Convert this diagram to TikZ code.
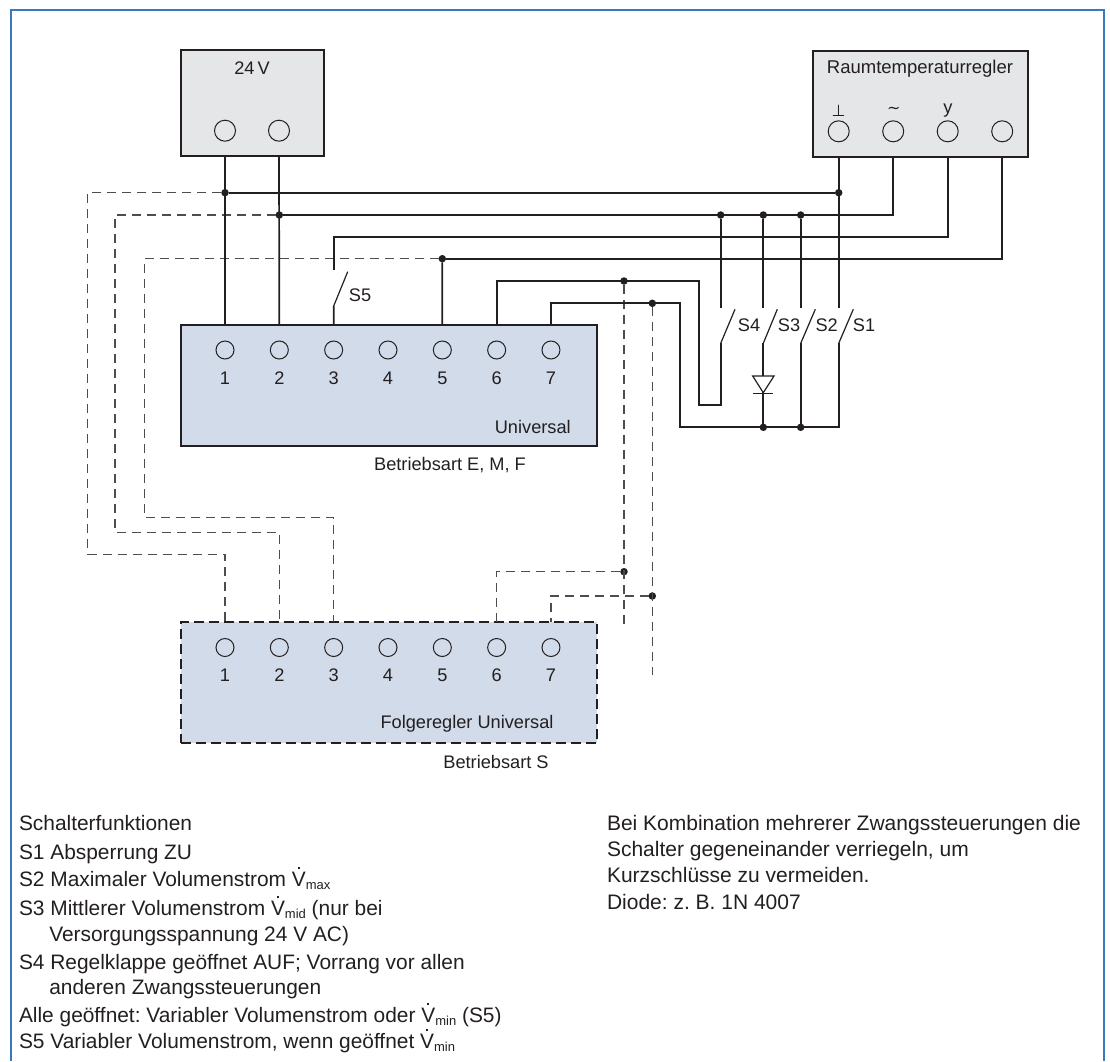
\documentclass[tikz,border=0pt]{standalone}
\usepackage{fontspec}
\setmainfont{Liberation Sans}
\newfontfamily\symfont{DejaVu Sans}
\usetikzlibrary{positioning}

\definecolor{ink}{HTML}{231F20}
\definecolor{framecol}{HTML}{3A77BD}
\definecolor{dashcol}{HTML}{4D4D4D}
\definecolor{greyfill}{HTML}{E5E6E8}
\definecolor{bluefill}{HTML}{D1DBE9}

\newcommand{\flow}[1]{\makebox[0pt][l]{\hspace{.28em}\raisebox{.8em}{\rule{.1em}{.1em}}}V\raisebox{-3.5pt}{\fontsize{13}{13}\selectfont #1}}
\frenchspacing

\begin{document}
\begin{tikzpicture}[
  x=1pt, y=-1pt,
  node distance=36.33pt,
  every node/.style={text=ink, inner sep=0pt, outer sep=0pt},
  lbl/.style={font=\fontsize{18.2}{20}\selectfont},
  symb/.style={font=\fontsize{16}{16}\selectfont\symfont},
  note/.style={font=\fontsize{20.9}{24}\selectfont, anchor=base west},
  notewide/.style={note, font=\fontsize{21}{24}\selectfont},
  box/.style={draw=ink, line width=2pt, anchor=north west},
  dashbox/.style={box, dash pattern=on 10pt off 5pt},
  terminal/.style={circle, draw=ink, line width=1pt, minimum size=18pt},
  bigterminal/.style={terminal, minimum size=21pt},
  junction/.style={circle, fill=ink, minimum size=7.5pt},
  wire/.style={draw=ink, line width=1.7pt},
  blade/.style={draw=ink, line width=1.2pt},
  dashwire/.style={draw=dashcol, line width=1.2pt, dash pattern=on 9pt off 6pt}
]
  \useasboundingbox (0,0) rectangle (1110,1061);
  \draw [framecol, line width=1.6pt] (11,1061) -- (11,10) -- (1104,10) -- (1104,1061);

  % supply
  \node (psu) [box, fill=greyfill, minimum width=143pt, minimum height=105.4pt] at (180.7,50.3) {};
  \node (psutext) [lbl] at (252,68) {24\,V};
  \node (p1) [bigterminal] at (225,130.7) {};
  \node (p2) [bigterminal, right=33pt of p1] {};

  % room controller
  \node (room) [box, fill=greyfill, minimum width=215.3pt, minimum height=106pt] at (812.7,50.7) {};
  \node (roomtext) [font=\fontsize{18.5}{22}\selectfont] at (920,69) {Raumtemperaturregler};
  \node (r1) [bigterminal] at (838.7,131.3) {};
  \node (r2) [bigterminal, right=33.5pt of r1] {};
  \node (r3) [bigterminal, right=33.5pt of r2] {};
  \node (r4) [bigterminal, right=33.5pt of r3] {};
  \node (rsym1) [symb] at (838.7,111) {⊥};
  \node (rsym2) [symb] at (893.7,110) {∼};
  \node (rsym3) [lbl] at (948,111) {y};

  % universal
  \node (uni) [box, fill=bluefill, minimum width=416pt, minimum height=121pt] at (180.7,325) {};
  \node (unitext) [lbl, anchor=east] at (570.7,426.7) {Universal};
  \node (unimode) [lbl] at (450,465) {Betriebsart E, M, F};
  \node (u1) [terminal] at (225,350) {};
  \node (u2) [terminal, right=of u1] {};
  \node (u3) [terminal, right=of u2] {};
  \node (u4) [terminal, right=of u3] {};
  \node (u5) [terminal, right=of u4] {};
  \node (u6) [terminal, right=of u5] {};
  \node (u7) [terminal, right=of u6] {};
  \node (un1) [lbl, below=12.5pt of u1] {1};
  \node (un2) [lbl, below=12.5pt of u2] {2};
  \node (un3) [lbl, below=12.5pt of u3] {3};
  \node (un4) [lbl, below=12.5pt of u4] {4};
  \node (un5) [lbl, below=12.5pt of u5] {5};
  \node (un6) [lbl, below=12.5pt of u6] {6};
  \node (un7) [lbl, below=12.5pt of u7] {7};

  % follower
  \node (fol) [dashbox, fill=bluefill, minimum width=416pt, minimum height=121pt] at (180.7,622.3) {};
  \node (foltext) [lbl] at (467,724) {Folgeregler Universal};
  \node (folmode) [lbl] at (496,762) {Betriebsart S};
  \node (f1) [terminal] at (225,647.5) {};
  \node (f2) [terminal, right=of f1] {};
  \node (f3) [terminal, right=of f2] {};
  \node (f4) [terminal, right=of f3] {};
  \node (f5) [terminal, right=of f4] {};
  \node (f6) [terminal, right=of f5] {};
  \node (f7) [terminal, right=of f6] {};
  \node (fn1) [lbl, below=12.5pt of f1] {1};
  \node (fn2) [lbl, below=12.5pt of f2] {2};
  \node (fn3) [lbl, below=12.5pt of f3] {3};
  \node (fn4) [lbl, below=12.5pt of f4] {4};
  \node (fn5) [lbl, below=12.5pt of f5] {5};
  \node (fn6) [lbl, below=12.5pt of f6] {6};
  \node (fn7) [lbl, below=12.5pt of f7] {7};

  % junctions
  \node (j1) [junction] at (225,192.7) {};
  \node (jr1) [junction] at (838.7,192.7) {};
  \node (j2) [junction] at (279.3,215) {};
  \node (js4) [junction] at (720.7,215) {};
  \node (js3) [junction] at (763.3,215) {};
  \node (js2) [junction] at (800.7,215) {};
  \node (j5) [junction] at (442.3,258.7) {};
  \node (j6) [junction] at (624,281) {};
  \node (j7) [junction] at (652.3,303.3) {};
  \node (j8) [junction] at (624,571.7) {};
  \node (j9) [junction] at (652.3,596) {};
  \node (jb3) [junction] at (763.3,427.3) {};
  \node (jb2) [junction] at (800.7,427.3) {};

  % switches
  \coordinate (s1a) at (838.7,307.7);
  \coordinate (s1b) at (838.7,343.3);
  \coordinate (s1c) at (853.3,309.3);
  \coordinate (s2a) at (800.7,307.7);
  \coordinate (s2b) at (800.7,343.3);
  \coordinate (s2c) at (815.3,309.3);
  \coordinate (s3a) at (763.3,307.7);
  \coordinate (s3b) at (763.3,343.3);
  \coordinate (s3c) at (777.3,309.3);
  \coordinate (s4a) at (720.7,307.7);
  \coordinate (s4b) at (720.7,343.3);
  \coordinate (s4c) at (735,309.3);
  \coordinate (s5a) at (333.7,270);
  \coordinate (s5b) at (333.7,306);
  \coordinate (s5c) at (347.7,271.7);
  \node (s1text) [lbl] at (864,325.7) {S1};
  \node (s2text) [lbl] at (826.7,325.7) {S2};
  \node (s3text) [lbl] at (789,325.7) {S3};
  \node (s4text) [lbl] at (749,325.7) {S4};
  \node (s5text) [lbl] at (360,295) {S5};

  % bends
  \coordinate (b3) at (333.7,236.7);
  \coordinate (b6) at (698.7,281);
  \coordinate (b6a) at (698.7,405);
  \coordinate (b6b) at (720.7,405);
  \coordinate (b7) at (680,303.3);
  \coordinate (b7a) at (680,427.3);
  \coordinate (b7b) at (838.7,427.3);
  \coordinate (d1) at (87.7,554.3);
  \coordinate (d2) at (115,532.3);
  \coordinate (d5) at (144.3,517.7);
  \coordinate (e6) at (624,626.7);
  \coordinate (e7) at (652.3,675);

  % dashed wiring
  \draw [dashwire] (j1) -| (d1) -| (f1 |- fol.north);
  \draw [dashwire] (j2) -| (d2) -| (f2 |- fol.north);
  \draw [dashwire] (j5) -| (d5) -| (f3 |- fol.north);
  \draw [dashwire] (j6) -- (e6);
  \draw [dashwire] (j7) -- (e7);
  \draw [dashwire] (j8) -| (f6 |- fol.north);
  \draw [dashwire] (j9) -| (f7 |- fol.north);

  % solid wiring
  \draw [wire] (p1 |- psu.south) -- (u1 |- uni.north);
  \draw [wire] (p2 |- psu.south) -- (u2 |- uni.north);
  \draw [wire] (j1) -- (jr1);
  \draw [wire] (r1 |- room.south) -- (s1a);
  \draw [wire] (j2) -| (r2 |- room.south);
  \draw [wire] (r3 |- room.south) |- (b3) -- (s5a);
  \draw [wire] (r4 |- room.south) |- (j5);
  \draw [wire] (j5) -- (u5 |- uni.north);
  \draw [wire] (s5b) -- (u3 |- uni.north);
  \draw [wire] (js4) -- (s4a);
  \draw [wire] (js3) -- (s3a);
  \draw [wire] (js2) -- (s2a);
  \draw [wire] (u6 |- uni.north) |- (b6) -- (b6a) -- (b6b) -- (s4b);
  \draw [wire] (u7 |- uni.north) |- (b7) -- (b7a) -- (b7b) -- (s1b);
  \draw [wire] (s3b) -- (jb3);
  \draw [wire] (s2b) -- (jb2);

  \draw [blade] (s1b) -- (s1c);
  \draw [blade] (s2b) -- (s2c);
  \draw [blade] (s3b) -- (s3c);
  \draw [blade] (s4b) -- (s4c);
  \draw [blade] (s5b) -- (s5c);

  % diode
  \draw [blade, fill=white] (752.7,376) -- (774,376) -- (763.3,392.7) -- cycle;
  \draw [blade] (753.3,393.7) -- (773.3,393.7);

  % notes
  \node (n1) [note] at (19,830) {Schalterfunktionen};
  \node (n2) [note] at (19,859) {S1 Absperrung ZU};
  \node (n3) [note] at (19,886) {S2 Maximaler Volumenstrom \flow{max}};
  \node (n4) [note] at (19,915) {S3 Mittlerer Volumenstrom \flow{mid} (nur bei};
  \node (n5) [note] at (49.3,941) {Versorgungsspannung 24 V AC)};
  \node (n6) [note] at (19,969) {S4 Regelklappe geöffnet AUF; Vorrang vor allen};
  \node (n7) [note] at (49.3,994) {anderen Zwangssteuerungen};
  \node (n8) [note] at (19,1022) {Alle geöffnet: Variabler Volumenstrom oder \flow{min} (S5)};
  \node (n9) [note] at (19,1048) {S5 Variabler Volumenstrom, wenn geöffnet \flow{min}};

  \node (m1) [notewide] at (607,830) {Bei Kombination mehrerer Zwangssteuerungen die};
  \node (m2) [notewide] at (607,856) {Schalter gegeneinander verriegeln, um};
  \node (m3) [notewide] at (607,882) {Kurzschlüsse zu vermeiden.};
  \node (m4) [notewide] at (607,909) {Diode: z. B. 1N 4007};

\end{tikzpicture}
\end{document}
